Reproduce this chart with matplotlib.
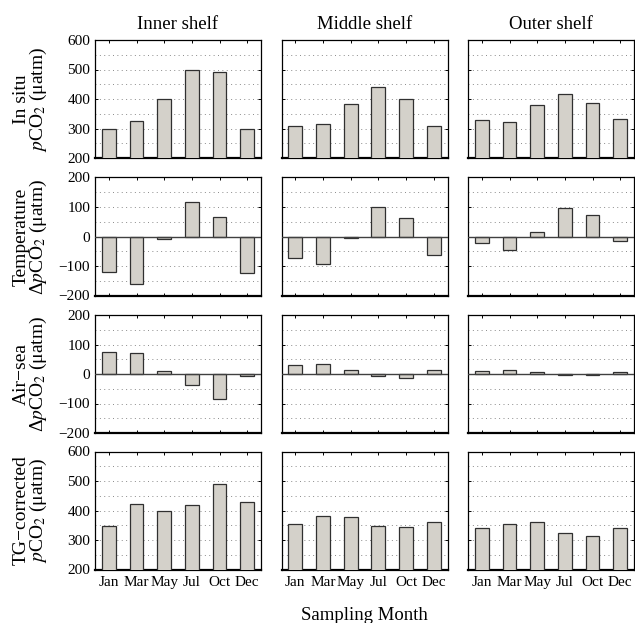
import matplotlib
matplotlib.use("Agg")
import matplotlib.pyplot as plt
import numpy as np

plt.rcParams['font.family'] = ['Liberation Serif', 'DejaVu Serif']
plt.rcParams['mathtext.fontset'] = 'stix'

months = ['Jan', 'Mar', 'May', 'Jul', 'Oct', 'Dec']
columns = ['Inner shelf', 'Middle shelf', 'Outer shelf']

insitu_inner = [298, 327, 400, 497, 492, 298]
insitu_middle = [308, 316, 384, 442, 400, 308]
insitu_outer = [328, 321, 379, 418, 386, 331]

temp_inner = [-121, -160, -10, 116, 65, -123]
temp_middle = [-72, -94, -5, 100, 64, -64]
temp_outer = [-23, -45, 16, 95, 73, -15]

airsea_inner = [75, 70, 10, -38, -84, -8]
airsea_middle = [29, 33, 12, -6, -12, 14]
airsea_outer = [11, 14, 7, -2, -4, 7]

tg_inner = [346, 421, 400, 418, 491, 430]
tg_middle = [353, 381, 378, 346, 345, 361]
tg_outer = [341, 354, 361, 323, 315, 342]

rows = [
    ([insitu_inner, insitu_middle, insitu_outer], (200, 600), 'In situ\n$\\mathit{p}$CO$_2$ (μatm)'),
    ([temp_inner, temp_middle, temp_outer], (-200, 200), 'Temperature\nΔ$\\mathit{p}$CO$_2$ (μatm)'),
    ([airsea_inner, airsea_middle, airsea_outer], (-200, 200), 'Air−sea\nΔ$\\mathit{p}$CO$_2$ (μatm)'),
    ([tg_inner, tg_middle, tg_outer], (200, 600), 'TG−corrected\n$\\mathit{p}$CO$_2$ (μatm)'),
]

W, H = 635, 623
fig = plt.figure(figsize=(W / 100, H / 100), dpi=100)

lefts = [95, 281.5, 468]
aw = 166
tops = [40, 177.5, 315, 451.5]
ah = 118

bar_color = '#d4d1ca'
x = np.arange(1, 7)

for r, (data, ylim, ylabel) in enumerate(rows):
    for c in range(3):
        ax = fig.add_axes([lefts[c] / W, 1 - (tops[r] + ah) / H, aw / W, ah / H])
        ax.bar(x, data[c], width=0.5, color=bar_color,
               edgecolor='#303030', linewidth=0.9, zorder=3)
        if ylim[0] < 0:
            ax.axhline(0, color='#404040', linewidth=1.0, zorder=4)
        ax.set_xlim(0.5, 6.5)
        ax.set_ylim(*ylim)
        ax.set_yticks(np.arange(ylim[0], ylim[1] + 1, 100))
        ax.set_yticks(np.arange(ylim[0], ylim[1] + 1, 50), minor=True)
        ax.set_xticks(x)
        ax.grid(True, axis='y', which='both', linestyle=(0, (1, 3.5)),
                color='#8a8a8a', linewidth=0.7, zorder=0)
        ax.tick_params(axis='both', which='both', direction='in', top=True, right=True,
                       labelsize=11, length=2.5, width=0.7)
        ax.tick_params(axis='y', which='minor', length=0)
        for s in ax.spines.values():
            s.set_linewidth(0.9)
        ax.spines['bottom'].set_linewidth(1.6)
        if c == 0:
            fig.text(31 / W, 1 - (tops[r] + ah / 2) / H, ylabel, rotation=90,
                     ha='center', va='center', fontsize=14, linespacing=0.85,
                     multialignment='center')
        else:
            ax.set_yticklabels([])
        if r == 3:
            ax.set_xticklabels(months, fontsize=11)
            ax.tick_params(axis='x', pad=5)
        else:
            ax.set_xticklabels([])
        if r == 0:
            ax.set_title(columns[c], fontsize=13.5, pad=8)

fig.text(0.5 * (95 + 634) / W, 1 - 616 / H, 'Sampling Month', ha='center', va='center', fontsize=13.5)

fig.savefig('out.png', dpi=100)
